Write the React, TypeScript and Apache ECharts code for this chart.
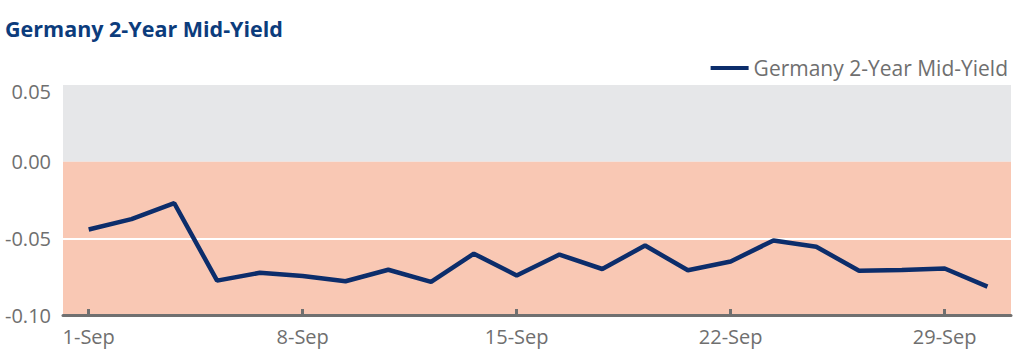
import React, { useEffect, useRef } from "react";
import * as echarts from "echarts";

const titleText = "Germany 2-Year Mid-Yield";
const seriesName = "Germany 2-Year Mid-Yield";
const dates = [
  "1-Sep", "2-Sep", "3-Sep", "4-Sep", "7-Sep", "8-Sep", "9-Sep", "10-Sep", "11-Sep",
  "14-Sep", "15-Sep", "16-Sep", "17-Sep", "18-Sep", "21-Sep", "22-Sep", "23-Sep",
  "24-Sep", "25-Sep", "28-Sep", "29-Sep", "30-Sep",
];
const yields = [
  -0.0442, -0.0375, -0.0271, -0.0776, -0.0725, -0.0746, -0.0780, -0.0705, -0.0784,
  -0.0600, -0.0742, -0.0606, -0.0700, -0.0547, -0.0708, -0.0651, -0.0514, -0.0555,
  -0.0711, -0.0706, -0.0697, -0.0815,
];
const xTickIndices = [0, 5, 10, 15, 20];
const yTicks = [-0.1, -0.05, 0, 0.05];

const FONT = "'Open Sans', sans-serif";
const GREY_TEXT = "#6f6f6f";
const NAVY = "#0c2d6b";

export default function App() {
  const ref = useRef<HTMLDivElement>(null);
  useEffect(() => {
    document.body.style.margin = "0";
    const chart = echarts.init(ref.current!, null, { renderer: "svg" });
    chart.setOption({
      animation: false,
      title: {
        text: titleText,
        left: 0,
        top: 12,
        textStyle: { fontFamily: FONT, fontWeight: "bold", fontSize: 21.5, color: "#0c3c7c" },
      },
      legend: {
        data: [seriesName],
        right: 12,
        top: 51,
        icon: "rect",
        itemWidth: 38,
        itemHeight: 4,
        itemGap: 9,
        textStyle: { fontFamily: FONT, fontSize: 21, color: GREY_TEXT, lineHeight: 24 },
      },
      grid: { left: 63, right: 14, top: 85, bottom: 39 },
      xAxis: {
        type: "value",
        min: -0.6,
        max: 21.55,
        z: 20,
        splitLine: { show: false },
        axisLine: { onZero: false, lineStyle: { color: "#707070", width: 3 } },
        axisTick: {
          customValues: xTickIndices,
          inside: true,
          length: 6,
          lineStyle: { color: "#707070", width: 3 },
        },
        axisLabel: {
          customValues: xTickIndices,
          formatter: (v: number) => dates[Math.round(v)],
          margin: 11,
          fontFamily: FONT,
          fontSize: 20,
          color: GREY_TEXT,
        },
      },
      yAxis: {
        type: "value",
        min: yTicks[0],
        max: yTicks[yTicks.length - 1],
        interval: 0.05,
        splitLine: { show: false },
        axisLine: { show: false },
        axisTick: { show: false },
        axisLabel: {
          margin: 12,
          fontFamily: FONT,
          fontSize: 20,
          color: GREY_TEXT,
          formatter: (v: number) => {
            const s = Math.abs(v) < 1e-9 ? "0.00" : v.toFixed(2);
            return v > 0.04 ? "{t|" + s + "}" : s;
          },
          rich: {
            t: { fontFamily: FONT, fontSize: 20, color: GREY_TEXT, padding: [12, 0, 0, 0] },
          },
        },
      },
      series: [
        {
          type: "line",
          name: "bg",
          data: [],
          z: 1,
          silent: true,
          markArea: {
            silent: true,
            z: 1,
            data: [
              [{ yAxis: 0, itemStyle: { color: "#e6e7e9" } }, { yAxis: yTicks[3] }],
              [{ yAxis: yTicks[0], itemStyle: { color: "#f9c8b4" } }, { yAxis: 0 }],
            ],
          },
          markLine: {
            silent: true,
            z: 2,
            symbol: "none",
            label: { show: false },
            lineStyle: { color: "#ffffff", width: 2, type: "solid" },
            data: [{ yAxis: yTicks[1] }],
          },
        },
        {
          type: "line",
          name: seriesName,
          z: 10,
          data: yields.map((v, i) => [i, v]),
          showSymbol: false,
          symbol: "none",
          lineStyle: { color: NAVY, width: 4.5 },
          itemStyle: { color: NAVY },
        },
      ],
    });
    return () => chart.dispose();
  }, []);
  return <div ref={ref} style={{ width: 1025, height: 354 }} />;
}
